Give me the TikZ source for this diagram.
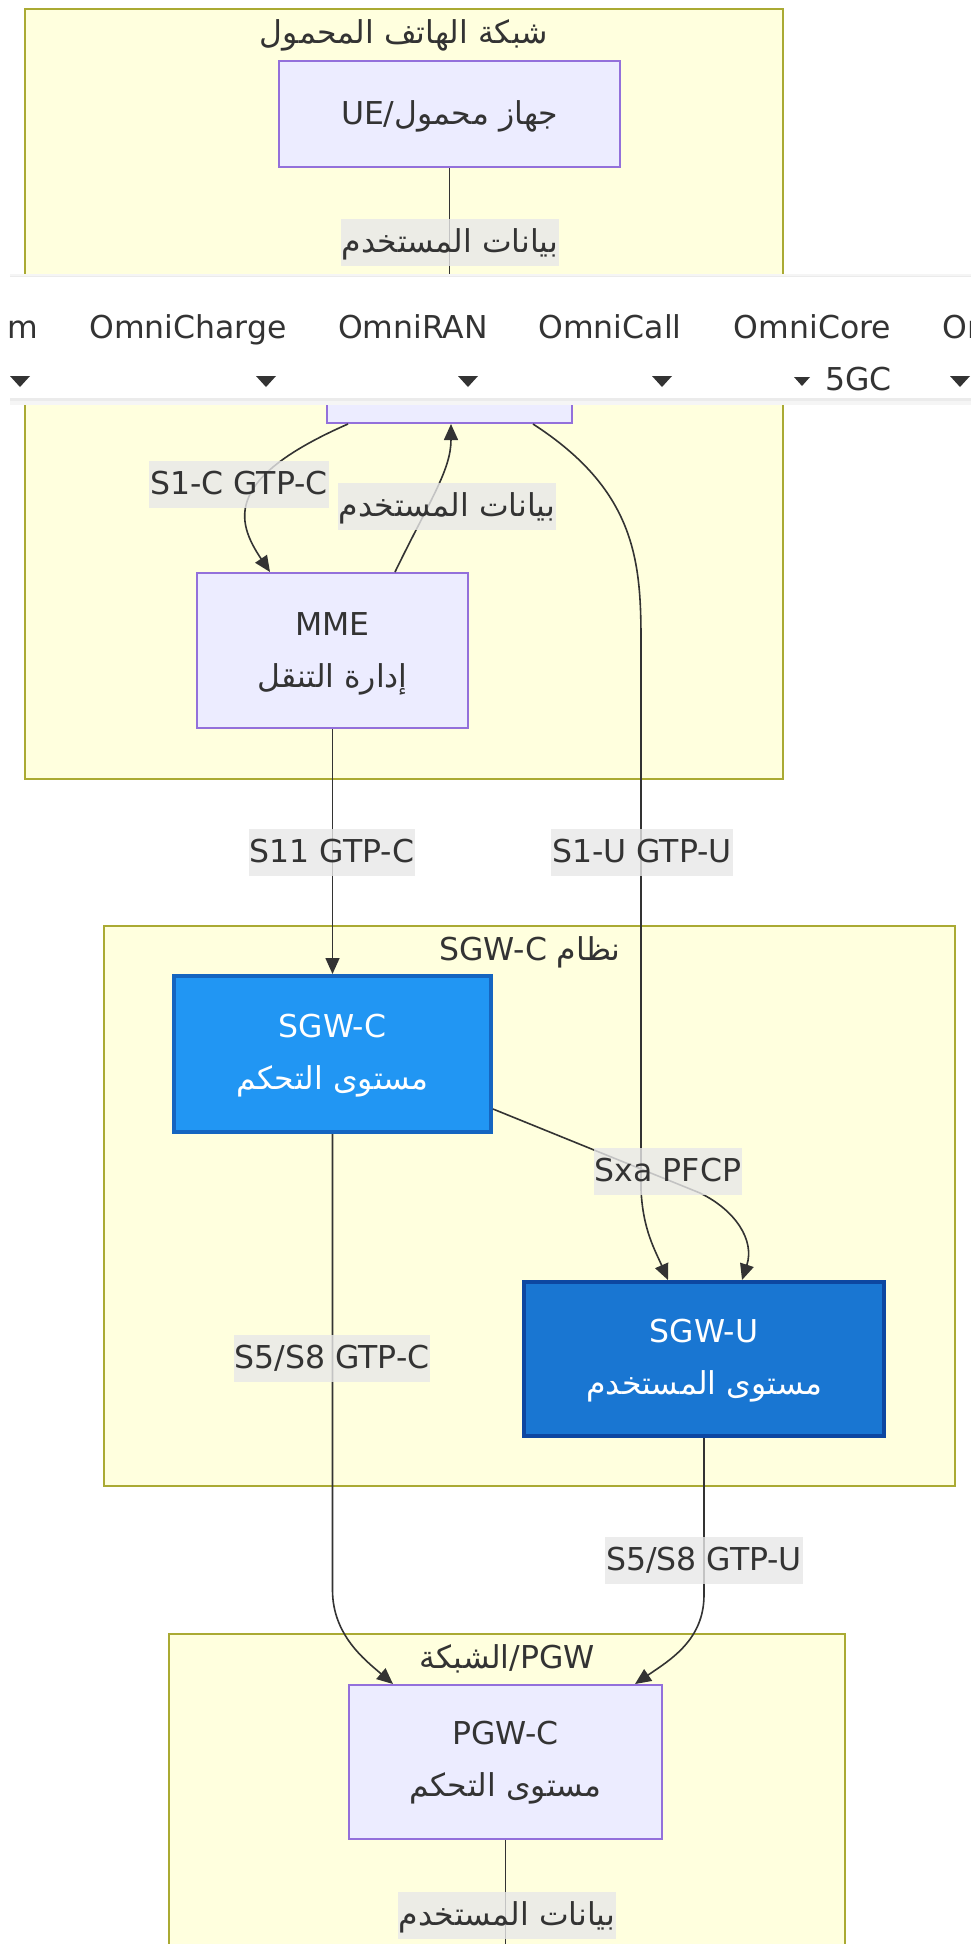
\documentclass[tikz,border=0pt]{standalone}
\usepackage{fontspec}
\setmainfont{DejaVu Sans}
\newfontfamily\arfont[Script=Arabic]{DejaVu Sans}
\TeXXeTstate=1
\usetikzlibrary{arrows.meta}
\newcommand{\artext}[1]{{\arfont\beginR #1\endR}}
\newcommand{\dgmfont}{\fontsize{31.5}{52}\selectfont}
\definecolor{clfill}{HTML}{FFFFDE}
\definecolor{cldraw}{HTML}{AAAA33}
\definecolor{ndfill}{HTML}{ECECFF}
\definecolor{nddraw}{HTML}{9370DB}
\definecolor{cfill}{HTML}{2196F3}
\definecolor{cdraw}{HTML}{1565C0}
\definecolor{ufill}{HTML}{1976D2}
\definecolor{udraw}{HTML}{0D47A1}
\definecolor{txt}{HTML}{333333}
\definecolor{lblfill}{HTML}{E8E8E8}
\definecolor{edgecol}{HTML}{333333}
\tikzset{
  cluster/.style={fill=clfill, draw=cldraw, line width=2pt},
  title/.style={text=txt, font=\dgmfont, inner sep=0pt, text height=34pt, text depth=13pt},
  box/.style={rectangle, fill=ndfill, draw=nddraw, line width=2pt, text=txt, align=center,
     font=\dgmfont, inner sep=0pt, text height=78pt, text depth=7pt},
  onebox/.style={box, text height=34pt, text depth=13pt},
  ctrlbox/.style={box, fill=cfill, draw=cdraw, line width=4pt, text=white},
  userbox/.style={box, fill=ufill, draw=udraw, line width=4pt, text=white},
  lbl/.style={fill=lblfill, fill opacity=0.8, text opacity=1, text=txt, font=\dgmfont,
     inner xsep=1pt, inner ysep=0pt, text height=34pt, text depth=13pt},
  edge/.style={draw=edgecol, line width=1.6pt, -{Triangle[length=16pt,width=14pt]}},
  navtxt/.style={text=txt, font=\dgmfont, inner sep=0pt, anchor=base},
}
\begin{document}
\begin{tikzpicture}[x=1pt,y=-1pt]
\useasboundingbox (0,0) rectangle (971,1944);
\clip (0,0) rectangle (971,1944);
\fill[white] (0,0) rectangle (971,1944);
% clusters
\draw[cluster] (25,9) rectangle (783,779);
\node[title] (t1) at (404,33) {\artext{شبكة الهاتف المحمول}};
\draw[cluster] (104,926) rectangle (955,1486);
\node[title] (t2) at (530,950) {SGW-C \artext{نظام}};
\draw[cluster] (169,1634) rectangle (845,1990);
\node[title] (t3) at (507,1658) {\artext{الشبكة}/PGW};
% nodes
\node[onebox, minimum width=341pt, minimum height=106pt] (ue) at (449.5,114) {UE/\artext{جهاز محمول}};
\node[onebox, minimum width=245pt, minimum height=106pt] (enb) at (449.5,370) {};
\node[box, minimum width=271pt, minimum height=155pt, text height=80pt, text depth=7pt] (mme) at (332.5,650.5) {MME\\\artext{إدارة التنقل}};
\node[ctrlbox, minimum width=317pt, minimum height=156pt] (sgwc) at (332.5,1054) {SGW-C\\\artext{مستوى التحكم}};
\node[userbox, minimum width=360pt, minimum height=154pt] (sgwu) at (704,1359) {SGW-U\\\artext{مستوى المستخدم}};
\node[box, minimum width=313pt, minimum height=154pt, text height=76pt] (pgwc) at (505.5,1762) {PGW-C\\\artext{مستوى التحكم}};
% edges
\draw[edge] (ue.south) -- (enb.north);
\draw[edge] ([xshift=-101.5pt]enb.south) .. controls (225,478) and (235,520) .. ([xshift=-62.5pt]mme.north);
\draw[edge] ([xshift=62.5pt]mme.north) .. controls (430,500) and (451,470) .. ([xshift=1.5pt]enb.south);
\draw[edge] ([xshift=83.5pt]enb.south) .. controls (635,490) and (641,560) .. (641,640) -- (641,1190) .. controls (643,1230) and (655,1250) .. ([xshift=-36pt]sgwu.north);
\draw[edge] (mme.south) -- (sgwc.north);
\draw[edge] ([yshift=-55pt]sgwc.east) -- (700,1193) .. controls (735,1210) and (755,1240) .. ([xshift=38pt]sgwu.north);
\draw[edge] (sgwc.south) -- (332.5,1590) .. controls (332.5,1635) and (365,1660) .. ([xshift=-112.5pt]pgwc.north);
\draw[edge] (sgwu.south) -- (704,1595) .. controls (704,1640) and (670,1660) .. ([xshift=129.5pt]pgwc.north);
\coordinate (out) at (505.5,1970);
\draw[edge] (pgwc.south) -- (out);
% edge labels
\node[lbl] (l1) at (450,242) {\artext{بيانات المستخدم}};
\node[lbl] (l2) at (239,484) {S1-C GTP-C};
\node[lbl] (l3) at (447,506) {\artext{بيانات المستخدم}};
\node[lbl] (l4) at (332,852) {S11 GTP-C};
\node[lbl] (l5) at (642,852) {S1-U GTP-U};
\node[lbl] (l6) at (668,1171) {Sxa PFCP};
\node[lbl] (l7) at (332,1358) {S5/S8 GTP-C};
\node[lbl] (l8) at (704,1560) {S5/S8 GTP-U};
\node[lbl] (l9) at (507,1915) {\artext{بيانات المستخدم}};
% overlay navigation bar
\fill[black!4] (10,274) rectangle (971,405);
\fill[black!8] (10,276) rectangle (971,401);
\fill[white] (10,277) rectangle (971,398);
\node[navtxt, anchor=base east] (n0) at (38,338) {m};
\node[navtxt] (n1) at (188,338) {OmniCharge};
\node[navtxt] (n2) at (413,338) {OmniRAN};
\node[navtxt] (n3) at (610,338) {OmniCall};
\node[navtxt] (n4) at (812.5,338) {OmniCore};
\node[navtxt, anchor=base west] (n5) at (942,338) {Omni};
\node[navtxt] (n6) at (858.5,390) {5GC};
\foreach \cx in {20,266,468,662,960}
  \fill[txt] (\cx-10,376) -- (\cx+10,376) -- (\cx,387) -- cycle;
\fill[txt] (794,377) -- (810,377) -- (802,386) -- cycle;
\end{tikzpicture}
\end{document}
